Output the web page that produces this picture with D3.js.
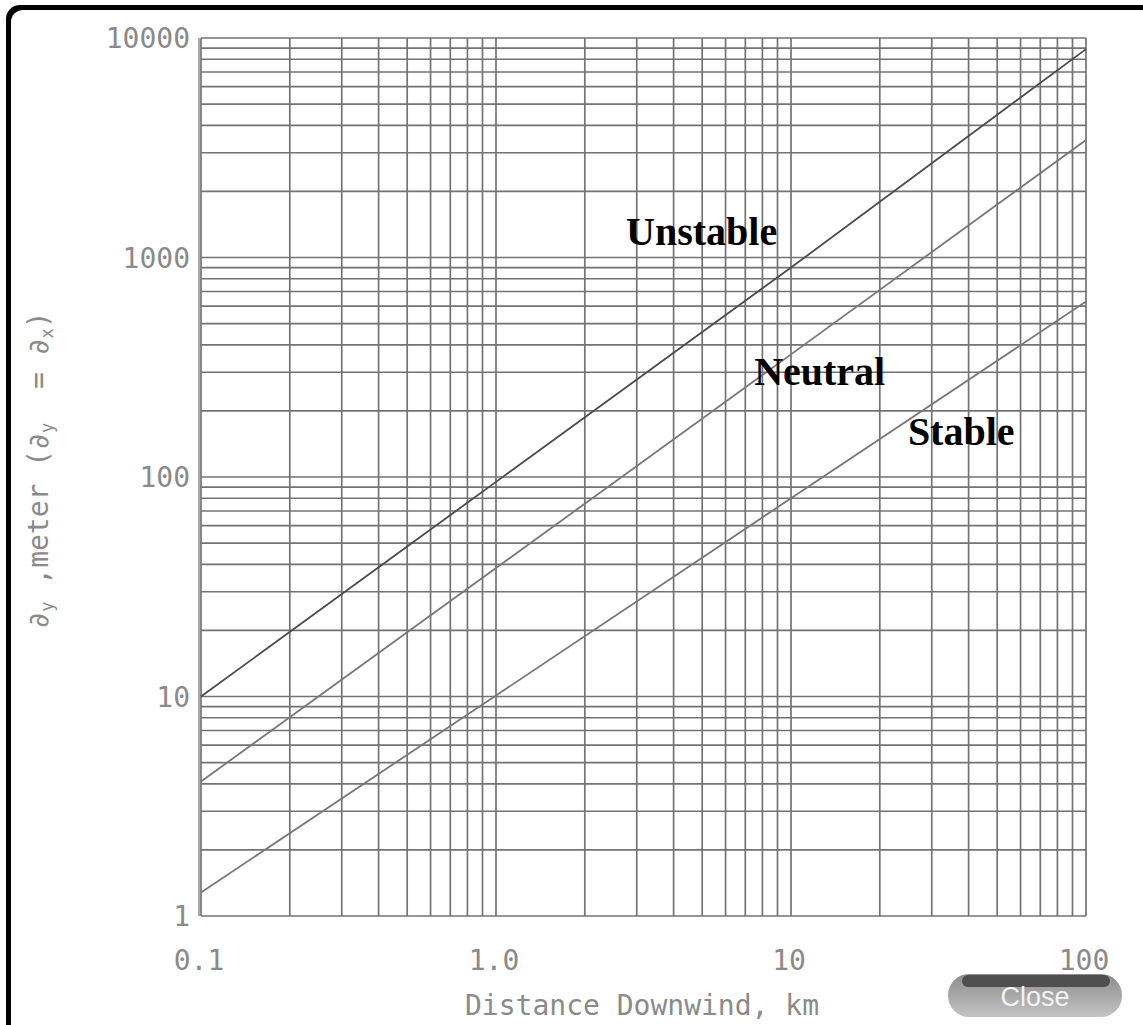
<!DOCTYPE html>
<html>
<head>
<meta charset="utf-8">
<script src="https://cdn.jsdelivr.net/npm/d3@7"></script>
<style>
  html, body { margin: 0; padding: 0; background: #fff; }
  svg { display: block; }
</style>
</head>
<body>
<svg id="chart" width="1143" height="1025"></svg>
<script>
// ---- data ----
const xTickValues = [0.1, 1, 10, 100];
const xTickLabels = ["0.1", "1.0", "10", "100"];
const yTickValues = [1, 10, 100, 1000, 10000];
const yTickLabels = ["1", "10", "100", "1000", "10000"];
const distanceKm = [0.1, 1, 10, 100];
const unstable = [10, 95, 900, 8900];
const neutral = [4.1, 38.5, 362, 3430];
const stable = [1.28, 10.1, 80, 630];
const seriesNames = ["Unstable", "Neutral", "Stable"];
const labelX = [2.76, 7.5, 24.9];
const labelY = [1140, 262, 140];
const xTitle = "Distance Downwind, km";

const svg = d3.select("#chart");
const W = 1143, H = 1025;

// frame
svg.append("rect").attr("x", 0).attr("y", 0).attr("width", W).attr("height", H).attr("fill", "#fff");
svg.append("rect").attr("x", 6).attr("y", 5).attr("width", W + 40).attr("height", H + 40)
  .attr("rx", 14).attr("fill", "#000");
svg.append("rect").attr("x", 11).attr("y", 10).attr("width", W + 40).attr("height", H + 40)
  .attr("rx", 12).attr("fill", "#fff");

const x = d3.scaleLog().domain([0.1, 100]).range([201, 1086]);
const y = d3.scaleLog().domain([1, 10000]).range([916, 38]);

const gridColor = "#737373";
const g = svg.append("g");

// grid values
const xGrid = [];
for (let d = -1; d < 2; d++) for (let k = 1; k <= 9; k++) xGrid.push(k * Math.pow(10, d));
xGrid.push(100);
const yGrid = [];
for (let d = 0; d < 4; d++) for (let k = 1; k <= 9; k++) yGrid.push(k * Math.pow(10, d));
yGrid.push(10000);

g.selectAll("line.vg").data(xGrid).enter().append("line")
  .attr("x1", d => x(d)).attr("x2", d => x(d))
  .attr("y1", y(1)).attr("y2", y(10000))
  .attr("stroke", gridColor).attr("stroke-width", 1.7);
g.selectAll("line.hg").data(yGrid).enter().append("line")
  .attr("x1", x(0.1)).attr("x2", x(100))
  .attr("y1", d => y(d)).attr("y2", d => y(d))
  .attr("stroke", gridColor).attr("stroke-width", 1.7);
g.append("line").attr("x1", x(0.1) - 2).attr("x2", x(0.1) - 2)
  .attr("y1", y(1)).attr("y2", y(10000)).attr("stroke", gridColor).attr("stroke-width", 1.2);

// series
const series = [unstable, neutral, stable];
const lineColors = ["#4a4a4a", "#777777", "#777777"];
const line = d3.line().x(d => x(d[0])).y(d => y(d[1]));
series.forEach((vals, i) => {
  g.append("path")
    .datum(distanceKm.map((dk, j) => [dk, vals[j]]))
    .attr("d", line)
    .attr("fill", "none")
    .attr("stroke", lineColors[i])
    .attr("stroke-width", 1.8);
});

// series labels
seriesNames.forEach((name, i) => {
  svg.append("text")
    .attr("x", x(labelX[i])).attr("y", y(labelY[i]))
    .attr("font-family", "'Liberation Serif', 'Times New Roman', serif")
    .attr("font-weight", "bold")
    .attr("font-size", 40)
    .attr("fill", "#000")
    .text(name);
});

// tick labels
const mono = "'DejaVu Sans Mono', 'Liberation Mono', monospace";
const tickColor = "#8a8a8a";
svg.selectAll("text.xt").data(xTickValues).enter().append("text")
  .attr("x", d => x(d) - 2).attr("y", 970)
  .attr("text-anchor", "middle")
  .attr("font-family", mono).attr("font-size", 28).attr("fill", tickColor)
  .text((d, i) => xTickLabels[i]);
svg.selectAll("text.yt").data(yTickValues).enter().append("text")
  .attr("x", 190).attr("y", d => y(d) + 10)
  .attr("text-anchor", "end")
  .attr("font-family", mono).attr("font-size", 28).attr("fill", tickColor)
  .text((d, i) => yTickLabels[i]);

// axis titles
svg.append("text")
  .attr("x", 642).attr("y", 1015)
  .attr("text-anchor", "middle")
  .attr("font-family", mono).attr("font-size", 28).attr("fill", tickColor)
  .text(xTitle);

const yt = svg.append("text")
  .attr("transform", "translate(48,470) rotate(-90)")
  .attr("text-anchor", "middle")
  .attr("font-family", mono).attr("font-size", 28).attr("fill", tickColor)
  .style("white-space", "pre");
const parts = [["∂", false], ["y", true], [" ,meter (∂", false], ["y", true], ["  = ∂", false], ["x", true], [")", false]];
parts.forEach((p, i) => {
  const t = yt.append("tspan").text(p[0]);
  if (p[1]) t.attr("font-size", 17).attr("dy", 5);
  else if (i > 0 && parts[i - 1][1]) t.attr("dy", -5);
});

// Close button
const defs = svg.append("defs");
const grad = defs.append("linearGradient").attr("id", "btn").attr("x1", 0).attr("y1", 0).attr("x2", 0).attr("y2", 1);
grad.append("stop").attr("offset", "0%").attr("stop-color", "#8c8c8c");
grad.append("stop").attr("offset", "100%").attr("stop-color", "#c4c4c4");
svg.append("rect").attr("x", 948).attr("y", 974).attr("width", 174).attr("height", 43)
  .attr("rx", 21).attr("fill", "url(#btn)");
svg.append("rect").attr("x", 962).attr("y", 975).attr("width", 148).attr("height", 12)
  .attr("rx", 6).attr("fill", "#4e4e4e");
svg.append("text").attr("x", 1035).attr("y", 1006)
  .attr("text-anchor", "middle")
  .attr("font-family", "'Liberation Sans', Arial, sans-serif")
  .attr("font-size", 27).attr("fill", "#f2f2f2")
  .text("Close");
</script>
</body>
</html>
